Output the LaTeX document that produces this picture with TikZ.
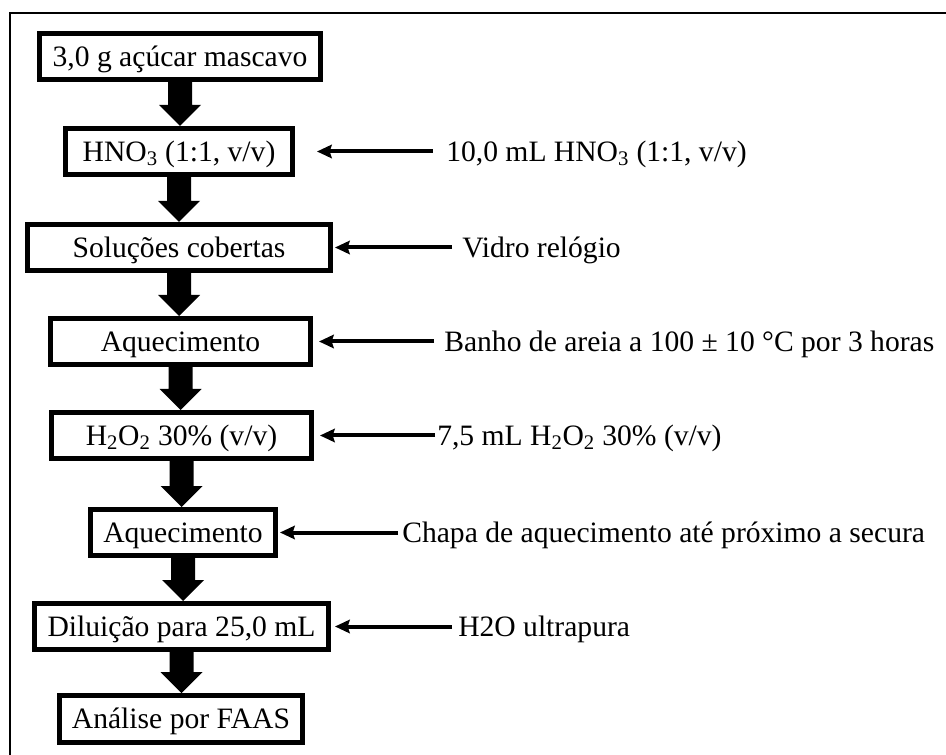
\documentclass[tikz,border=0pt]{standalone}
\usepackage{fontspec}
\setmainfont{Liberation Serif}
\usetikzlibrary{arrows.meta,calc}

% thick block arrow from the bottom of one step to the top of the next
\newcommand\flowdown[2]{%
  \fill let \p1=(#1.south), \p2=(#2.north) in
    (\x1-9pt,\y1) -- (\x1+9pt,\y1) -- (\x1+9pt,\y2+15.75pt) --
    (\x1+15.75pt,\y2+15.75pt) -- (\x1,\y2) -- (\x1-15.75pt,\y2+15.75pt) --
    (\x1-9pt,\y2+15.75pt) -- cycle;}

\begin{document}
\begin{tikzpicture}[x=0.75pt,y=-0.75pt,
  txt/.style={font=\fontsize{22.2}{26}\selectfont, text height=17.8pt, text depth=3.1pt},
  stepbox/.style={txt, draw, line width=3.75pt, inner sep=0pt,
                  minimum height=34.5pt},
  note/.style={txt, anchor=west, inner sep=0pt},
  feed/.style={line width=3pt, -{Stealth[length=11pt,width=10pt,inset=1.5pt]}},
]
\useasboundingbox (0,0) rectangle (946,755);

% frame (top and left edges)
\draw[line width=1.5pt] (946,13) -- (10,13) -- (10,755);

% procedure steps
\node[stepbox, minimum width=210.75pt] (b1) at (180,56.5) {3,0 g açúcar mascavo};
\node[stepbox, minimum width=170.25pt] (b2) at (179,151.5) {HNO\textsubscript{3} (1:1, v/v)};
\node[stepbox, minimum width=227.25pt] (b3) at (179,247.5) {Soluções cobertas};
\node[stepbox, minimum width=195pt]    (b4) at (180.5,341.5) {Aquecimento};
\node[stepbox, minimum width=195pt]    (b5) at (181.5,435.5) {H\textsubscript{2}O\textsubscript{2} 30\% (v/v)};
\node[stepbox, minimum width=138.75pt] (b6) at (183,532.5) {Aquecimento};
\node[stepbox, minimum width=220.5pt]  (b7) at (181.5,626.5) {Diluição para 25,0 mL};
\node[stepbox, minimum width=182.25pt, minimum height=35.25pt] (b8) at (181,719) {Análise por FAAS};

\flowdown{b1}{b2}
\flowdown{b2}{b3}
\flowdown{b3}{b4}
\flowdown{b4}{b5}
\flowdown{b5}{b6}
\flowdown{b6}{b7}
\flowdown{b7}{b8}

% reagents and conditions
\node[note] (t1) at (446,151.5) {10,0 mL HNO\textsubscript{3} (1:1, v/v)};
\node[note] (t2) at (462,247.5) {Vidro relógio};
\node[note] (t3) at (444,341.5) {Banho de areia a 100 ± 10 °C por 3 horas};
\node[note] (t4) at (437,435.5) {7,5 mL H\textsubscript{2}O\textsubscript{2} 30\% (v/v)};
\node[note] (t5) at (402,532.5) {Chapa de aquecimento até próximo a secura};
\node[note] (t6) at (458,626.5) {H2O ultrapura};

\draw[feed, shorten <=10pt,  shorten >=16.5pt] (t1.west) -- (t1.west -| b2.east);
\draw[feed, shorten <=7.5pt, shorten >=1.5pt]  (t2.west) -- (t2.west -| b3.east);
\draw[feed, shorten <=7.5pt, shorten >=4.5pt]  (t3.west) -- (t3.west -| b4.east);
\draw[feed, shorten <=1.5pt, shorten >=4.5pt]  (t4.west) -- (t4.west -| b5.east);
\draw[feed, shorten <=3pt,   shorten >=1.5pt]  (t5.west) -- (t5.west -| b6.east);
\draw[feed, shorten <=4.5pt, shorten >=3pt]    (t6.west) -- (t6.west -| b7.east);
\end{tikzpicture}
\end{document}
